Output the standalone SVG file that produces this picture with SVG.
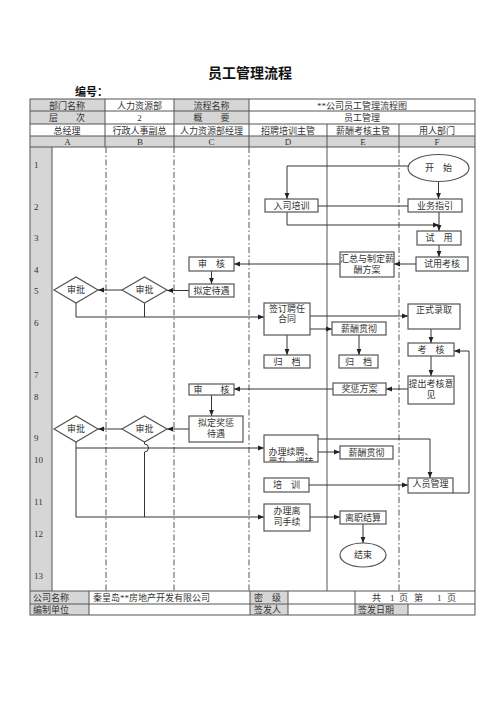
<svg xmlns="http://www.w3.org/2000/svg" width="500" height="708" viewBox="0 0 500 708">
<style>
text{font-family:"Liberation Serif","Noto Sans CJK SC",serif;font-size:9px;fill:#333;}
.c{text-anchor:middle;}
.t{font-size:14px;font-weight:bold;fill:#111;}
.b{font-weight:bold;font-size:11px;fill:#111;}
.g{fill:#d6d6d6;stroke:none;}
.tl{stroke:#555;stroke-width:1;fill:none;}
.ln{stroke:#555;stroke-width:1;fill:none;stroke-dasharray:6,2.5,1.5,2.5;}
.box{fill:#fff;stroke:#555;stroke-width:1.2;}
.cn path{stroke:#333;stroke-width:1;fill:none;}
.ar{marker-end:url(#ah);}
</style>
<defs>
<marker id="ah" viewBox="0 0 10 10" refX="10" refY="5" markerWidth="6" markerHeight="6" orient="auto" markerUnits="userSpaceOnUse"><path d="M0,1 L10,5 L0,9z" fill="#222"/></marker>
<clipPath id="clipbl"><rect x="264" y="435" width="54" height="26.5"/></clipPath>
</defs>
<rect width="500" height="708" fill="#fff"/>
<text class="t c" x="250" y="78">员工管理流程</text>
<text class="b" x="75" y="96">编号：</text>
<g id="table">
<rect class="g" x="30" y="99" width="75" height="25"/>
<rect class="g" x="174" y="99" width="75" height="25"/>
<rect class="g" x="30" y="136" width="445" height="11"/>
<rect class="g" x="30" y="147" width="22" height="444"/>
<rect class="g" x="30" y="591" width="59" height="24"/>
<rect class="g" x="250" y="591" width="38" height="24"/>
<rect class="g" x="355" y="604" width="53" height="11"/>
<rect class="tl" x="30" y="99" width="445" height="516"/>
<path class="tl" d="M30,111H475M30,124H475M30,136H475M30,147H475M30,591H475M30,604H475"/>
<path class="tl" d="M105,99V147M174,99V147M249,99V147M327,124V147M399,124V147"/>
<path class="tl" d="M52,147V591M327,147V591"/>
<path class="ln" d="M106,147V591M174,147V591M249,147V591M399,147V591"/>
<path class="tl" d="M89,591V615M250,591V615M288,591V615M355,591V615M408,604V615"/>
<text class="c" x="67" y="108.5">部门名称</text>
<text class="c" x="139.5" y="108.5">人力资源部</text>
<text class="c" x="211.5" y="108.5">流程名称</text>
<text class="c" x="362" y="108.5">**公司员工管理流程图</text>
<text class="c" x="67" y="121">层　　次</text>
<text class="c" x="139.5" y="121">2</text>
<text class="c" x="211.5" y="121">概　　要</text>
<text class="c" x="362" y="121">员工管理</text>
<text class="c" x="67" y="133.5">总经理</text>
<text class="c" x="139.5" y="133.5">行政人事副总</text>
<text class="c" x="211.5" y="133.5">人力资源部经理</text>
<text class="c" x="288" y="133.5">招聘培训主管</text>
<text class="c" x="363" y="133.5">薪酬考核主管</text>
<text class="c" x="437" y="133.5">用人部门</text>
<text class="c" x="67.5" y="145">A</text>
<text class="c" x="140" y="145">B</text>
<text class="c" x="211.5" y="145">C</text>
<text class="c" x="288" y="145">D</text>
<text class="c" x="363" y="145">E</text>
<text class="c" x="437" y="145">F</text>
<text x="34" y="168">1</text>
<text x="34" y="210">2</text>
<text x="34" y="241">3</text>
<text x="34" y="273">4</text>
<text x="34" y="294">5</text>
<text x="34" y="326">6</text>
<text x="34" y="378">7</text>
<text x="34" y="400">8</text>
<text x="34" y="441">9</text>
<text x="34" y="463">10</text>
<text x="34" y="505">11</text>
<text x="34" y="537">12</text>
<text x="34" y="579">13</text>
<text x="33" y="601">公司名称</text>
<text x="93" y="601">秦皇岛**房地产开发有限公司</text>
<text x="254" y="601">密　级</text>
<text y="601"><tspan x="372">共</tspan><tspan x="390">1</tspan><tspan x="399">页</tspan><tspan x="414">第</tspan><tspan x="437">1</tspan><tspan x="447">页</tspan></text>
<text x="33" y="612.5">编制单位</text>
<text x="254" y="612.5">签发人</text>
<text x="358" y="612.5">签发日期</text>
</g>
<g id="connectors" class="cn">
<path class="ar" d="M408,166H287V199"/>
<path class="ar" d="M438.5,181.5V199"/>
<path d="M318,206H408"/>
<path class="ar" d="M287,212V225H439"/>
<path class="ar" d="M439,212V231"/>
<path class="ar" d="M439,245V257"/>
<path class="ar" d="M416,264H394"/>
<path class="ar" d="M340,264H234"/>
<path class="ar" d="M211.5,271V284"/>
<path class="ar" d="M189,290.5H167"/>
<path class="ar" d="M122,290H98"/>
<path class="ar" d="M76,303V317H264"/>
<path d="M144.5,303V317"/>
<path class="ar" d="M310,316H408"/>
<path class="ar" d="M310,329H332"/>
<path class="ar" d="M287,335V355"/>
<path class="ar" d="M359,335V355"/>
<path class="ar" d="M431,329V343"/>
<path class="ar" d="M431,356V376"/>
<path class="ar" d="M408,389H386"/>
<path class="ar" d="M333,389H234"/>
<path class="ar" d="M211.5,395V416"/>
<path class="ar" d="M189,429H167"/>
<path class="ar" d="M122,429H98"/>
<path class="ar" d="M76,442V517H264"/>
<path class="ar" d="M76,448H264"/>
<path d="M144.5,442V444A4,4 0 0 1 144.5,452V517"/>
<path class="ar" d="M318,452H340"/>
<path class="ar" d="M318,439H430V478"/>
<path class="ar" d="M309,485H408"/>
<path class="ar" d="M453,493H469V351H454"/>
<path class="ar" d="M310,517H340"/>
<path class="ar" d="M363,524V543"/>
</g>
<g id="n_start"><ellipse class="box" cx="438.5" cy="168" rx="30.5" ry="13.5"/><text class="c" x="438.5" y="171">开　始</text></g>
<g id="n_rspx"><rect class="box" x="265" y="199" width="53" height="13"/><text class="c" x="291.5" y="208.5">入司培训</text></g>
<g id="n_ywzy"><rect class="box" x="408" y="199" width="54" height="13"/><text class="c" x="435" y="208.5">业务指引</text></g>
<g id="n_sy"><rect class="box" x="417" y="231" width="44" height="14"/><text class="c" x="439" y="241">试　用</text></g>
<g id="n_sykh"><rect class="box" x="416" y="257" width="52" height="14"/><text class="c" x="442" y="267">试用考核</text></g>
<g id="n_hz"><rect class="box" x="340" y="252" width="54" height="25"/><text class="c" x="367" y="262">汇总与制定薪</text><text class="c" x="367" y="273">酬方案</text></g>
<g id="n_sh1"><rect class="box" x="189" y="257" width="45" height="14"/><text class="c" x="211.5" y="267">审　核</text></g>
<g id="n_ndy"><rect class="box" x="189" y="284" width="45" height="13"/><text class="c" x="211.5" y="293.5">拟定待遇</text></g>
<g id="d_b1"><polygon class="box" points="122,290 144.5,277 167,290 144.5,303"/><text class="c" x="144.5" y="293">审批</text></g>
<g id="d_a1"><polygon class="box" points="54,290 76,277 98,290 76,303"/><text class="c" x="76" y="293">审批</text></g>
<g id="n_qd"><rect class="box" x="264" y="303" width="46" height="32"/><text class="c" x="287" y="312">签订聘任</text><text class="c" x="287" y="322">合同</text></g>
<g id="n_zslq"><rect class="box" x="408" y="304" width="52" height="25"/><text class="c" x="434" y="313">正式录取</text></g>
<g id="n_xcgc1"><rect class="box" x="332" y="322" width="54" height="13"/><text class="c" x="359" y="331.5">薪酬贯彻</text></g>
<g id="n_gd1"><rect class="box" x="264" y="355" width="46" height="13"/><text class="c" x="287" y="364.5">归　档</text></g>
<g id="n_gd2"><rect class="box" x="339" y="355" width="39" height="13"/><text class="c" x="358.5" y="364.5">归　档</text></g>
<g id="n_kh"><rect class="box" x="408" y="343" width="46" height="13"/><text class="c" x="431" y="352.5">考　核</text></g>
<g id="n_tc"><rect class="box" x="408" y="376" width="46" height="28"/><text class="c" x="431" y="387">提出考核意</text><text class="c" x="431" y="398">见</text></g>
<g id="n_jc"><rect class="box" x="333" y="383" width="53" height="12"/><text class="c" x="359.5" y="392">奖惩方案</text></g>
<g id="n_sh2"><rect class="box" x="189" y="384" width="45" height="11"/><text class="c" x="211.5" y="392.5">审　　核</text></g>
<g id="n_njc"><rect class="box" x="189" y="416" width="54" height="26"/><text class="c" x="216" y="426">拟定奖惩</text><text class="c" x="216" y="437">待遇</text></g>
<g id="d_b2"><polygon class="box" points="122,429 144.5,416 167,429 144.5,442"/><text class="c" x="144.5" y="432">审批</text></g>
<g id="d_a2"><polygon class="box" points="54,429 76,416 98,429 76,442"/><text class="c" x="76" y="432">审批</text></g>
<g id="n_bl"><rect class="box" x="264" y="435" width="54" height="27"/><g clip-path="url(#clipbl)"><text class="c" x="291" y="455">办理续聘、</text><text class="c" x="291" y="465">晋升、调转</text></g></g>
<g id="n_xcgc2"><rect class="box" x="340" y="446" width="53" height="13"/><text class="c" x="366.5" y="455.5">薪酬贯彻</text></g>
<g id="n_px"><rect class="box" x="264" y="478" width="45" height="14"/><text class="c" x="286.5" y="488">培　训</text></g>
<g id="n_rygl"><rect class="box" x="408" y="478" width="45" height="15"/><text class="c" x="430.5" y="487">人员管理</text></g>
<g id="n_lz"><rect class="box" x="264" y="504" width="46" height="27"/><text class="c" x="287" y="514">办理离</text><text class="c" x="287" y="525">司手续</text></g>
<g id="n_lzjs"><rect class="box" x="340" y="511" width="46" height="13"/><text class="c" x="363" y="520.5">离职结算</text></g>
<g id="n_end"><ellipse class="box" cx="363" cy="555" rx="23" ry="12"/><text class="c" x="363" y="558">结束</text></g>
</svg>
